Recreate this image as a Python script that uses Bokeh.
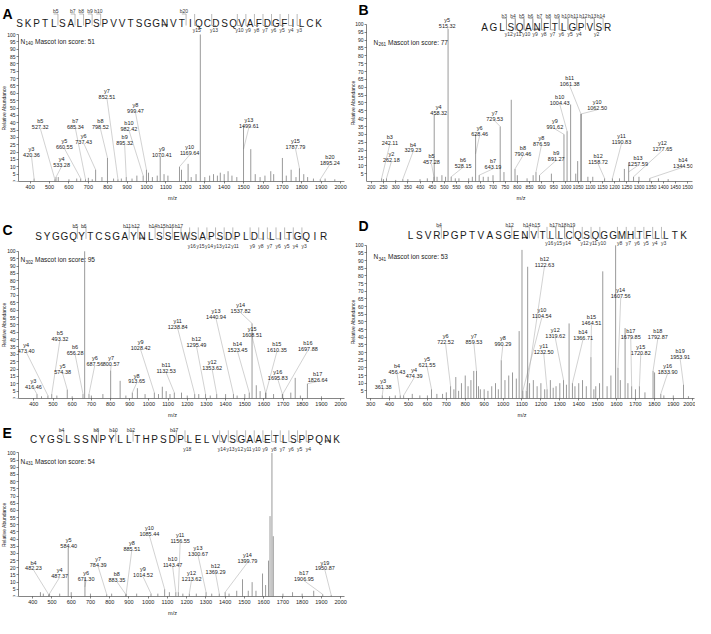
import math
from bokeh.plotting import figure
from bokeh.models import Range1d, FixedTicker
from bokeh.layouts import column, row
from bokeh.embed import file_html
from bokeh.resources import INLINE
from bokeh.core.properties import value

FONT = "Liberation Sans"
TXT = "#1b1b1b"
PEAK = "#6e6e6e"
LEAD = "#b3b3b3"
BRK = "#8c8c8c"

# ------------------------------------------------------------------ data
# Panel A
A_sequence = "SKPTLSALPSPVVTSGGNVTIQCDSQVAFDGFILCK"
A_b_ions = [5, 7, 8, 9, 10, 20]
A_y_ions = [15, 13, 10, 9, 8, 7, 6, 5, 4, 3]
A_site = 18
A_site_no = "140"
A_score = 51
A_ions = ["y3", "b5", "y4", "y5", "b7", "y6", "y7", "b8", "b9", "b10", "y8", "y9", "y10", "y13", "y15", "b20"]
A_ion_mz = [420.36, 527.32, 533.28, 660.55, 685.34, 737.43, 852.51, 798.52, 895.32, 982.42, 999.47, 1070.41, 1169.64, 1499.61, 1787.79, 1895.24]
A_ion_int = [2, 1.5, 3, 2, 1.5, 8, 1.5, 16, 3, 4, 8, 17, 10, 38, 9, 1.5]
A_peak_mz = [545, 600, 640, 700, 720, 770, 830, 870, 925, 950, 1010, 1030, 1055, 1090, 1110, 1180, 1214, 1230, 1255, 1277,
             1300, 1325, 1345, 1365, 1380, 1400, 1420, 1440, 1465, 1537, 1560, 1585, 1610, 1640, 1655, 1700, 1720, 1745, 1770, 1810,
             1830, 1860, 1920, 1970]
A_peak_int = [3, 1.5, 2, 2.5, 1.5, 3, 2, 2, 2, 4, 6, 3, 4, 5, 4, 8, 12, 3, 5, 100,
              3, 4, 5, 4, 6, 5, 7, 4, 3, 22, 5, 3, 4, 7, 5, 16, 4, 8, 3, 5,
              3, 2, 2, 1.5]
A_xticks = list(range(400, 2001, 100))

# Panel B
B_sequence = "AGLSQANFTLGPVSR"
B_b_ions = [3, 4, 5, 6, 7, 8, 9, 10, 11, 12, 13, 14]
B_y_ions = [12, 11, 10, 9, 8, 7, 6, 5, 4, 2]
B_site = 7
B_site_no = "261"
B_score = 77
B_ions = ["y5", "y4", "b3", "y2", "b4", "b5", "b6", "y6", "b7", "y7", "b8", "b11", "b10", "y10", "y9", "y8", "b9", "b12", "y11", "b13", "y12", "b14"]
B_ion_mz = [515.32, 458.32, 242.11, 262.18, 329.23, 457.28, 528.15, 628.46, 643.19, 729.53, 790.46, 1061.38, 1004.43, 1062.50, 991.62, 876.59, 891.27, 1158.72, 1190.83, 1257.59, 1277.65, 1344.50]
B_ion_int = [97, 42.5, 2, 2, 1.5, 3, 3, 30, 4, 35, 8, 43, 32, 43, 30, 6, 4, 2, 2, 12, 3, 2]
B_peak_mz = [250, 300, 350, 400, 430, 470, 490, 505, 545, 560, 600, 615, 660, 680, 700, 745, 775, 800, 840, 865,
             940, 1019, 1040, 1048, 1090, 1110, 1220, 1240, 1300, 1380, 1420]
B_peak_int = [1.5, 1, 1.5, 1.5, 2, 3, 4, 3, 2, 2, 2, 3, 3, 3, 4, 6, 52, 4, 2, 4,
              5, 49, 5, 13, 3, 3, 2, 8, 3, 2, 1.5]
B_xticks = list(range(200, 1501, 50))

# Panel C
C_sequence = "SYGGQYTCSGAYNLSSEWSAPSDPLDILITGQIR"
C_b_ions = [5, 6, 11, 12, 14, 15, 16, 17]
C_y_ions = [16, 15, 14, 13, 12, 11, 9, 8, 7, 6, 5, 4, 3]
C_site = 13
C_site_no = "302"
C_score = 95
C_ions = ["y3", "y4", "b5", "y5", "b6", "y6", "y7", "y8", "y9", "b11", "y11", "b12", "y12", "y13", "b14", "y14", "y15", "b15", "y16", "b16", "b17"]
C_ion_mz = [416.46, 473.40, 493.32, 574.38, 656.28, 687.56, 800.57, 913.65, 1028.42, 1132.53, 1238.84, 1295.49, 1353.62, 1440.94, 1523.45, 1537.82, 1608.51, 1610.35, 1695.83, 1697.88, 1826.64]
C_ion_int = [3, 2, 3, 6, 3, 3, 19, 4, 4, 4, 3, 3, 3, 3, 4, 51, 4, 4, 3, 3, 10]
C_peak_mz = [440, 520, 600, 665, 700, 760, 850, 880, 940, 980, 1050, 1070, 1090, 1110, 1170, 1200, 1260, 1320, 1400, 1460,
             1500, 1560, 1580, 1650, 1740, 1763, 1790, 1900]
C_peak_int = [1.5, 2, 1.5, 100, 2, 3, 12, 2, 7, 3, 3, 8, 5, 3, 4, 2, 3, 2, 3, 2,
              3, 9, 5, 3, 4, 14, 2, 1.5]
C_xticks = list(range(400, 2001, 100))

# Panel D
D_sequence = "LSVRPGPTVASGENVTLLCQSQGGMHTFLLTK"
D_b_ions = [4, 12, 14, 15, 17, 18, 19]
D_y_ions = [16, 15, 14, 12, 11, 10, 8, 7, 6, 5, 4, 3]
D_site = 14
D_site_no = "341"
D_score = 53
D_ions = ["y3", "b4", "y4", "y5", "y6", "y7", "y8", "y10", "b12", "y11", "y12", "b14", "b15", "y14", "b17", "y15", "b18", "y16", "b19"]
D_ion_mz = [361.38, 456.43, 474.39, 621.55, 722.52, 859.53, 990.29, 1104.54, 1122.63, 1232.50, 1319.62, 1366.71, 1464.51, 1607.56, 1679.85, 1720.82, 1792.87, 1833.90, 1953.91]
D_ion_int = [2, 2, 2, 6, 8, 18, 25, 5, 5, 6, 12, 10, 27, 20, 8, 8, 18, 3, 9]
D_peak_mz = [400, 430, 520, 560, 600, 650, 680, 700, 740, 750, 765, 780, 800, 815, 830, 845, 870, 880, 900, 920,
             940, 960, 975, 1010, 1030, 1050, 1070, 1085, 1100, 1130, 1140, 1160, 1180, 1200, 1220, 1250, 1265, 1280, 1300, 1335,
             1349, 1380, 1400, 1420, 1440, 1480, 1490, 1510, 1527, 1550, 1570, 1595, 1620, 1645, 1660, 1700, 1750, 1801, 1850, 1900,
             1980]
D_peak_int = [1.5, 2, 3, 2, 2, 3, 3, 4, 6, 14, 5, 10, 15, 8, 12, 18, 8, 6, 6, 5,
              8, 10, 6, 12, 15, 17, 13, 44, 97, 86, 10, 12, 8, 10, 6, 12, 7, 8, 10, 9,
              49, 8, 10, 12, 8, 6, 8, 10, 83, 8, 15, 100, 12, 46, 10, 6, 4, 17, 2, 2,
              1.5]
D_xticks = list(range(300, 2001, 100))

# Panel E
E_sequence = "CYGSLSSNPYLLTHPSDPLELVVSGAAETLSPPQNK"
E_b_ions = [4, 8, 10, 12, 17]
E_y_ions = [18, 14, 13, 12, 11, 10, 9, 8, 7, 6, 5, 4]
E_site = 35
E_site_no = "431"
E_score = 54
E_ions = ["b4", "y4", "y5", "y6", "y7", "b8", "y8", "y9", "y10", "b10", "y11", "y12", "y13", "b12", "y14", "b17", "y19"]
E_ion_mz = [482.23, 487.37, 584.40, 671.30, 784.39, 883.35, 885.51, 1014.52, 1085.44, 1143.47, 1156.55, 1213.62, 1300.67, 1369.29, 1399.79, 1906.95, 1950.87]
E_ion_int = [1.5, 2, 34, 13, 1.5, 1.5, 2, 2, 5, 3, 3, 2, 3, 2, 3, 1.5, 1]
E_peak_mz = [440, 455, 540, 600, 700, 810, 940, 1050, 1110, 1180, 1250, 1330, 1420, 1460, 1490, 1520, 1540, 1560, 1594, 1610,
             1625, 1633, 1643, 1650, 1700, 1750, 1800, 1860]
E_peak_int = [3, 2, 2, 3, 2, 2, 2, 2, 3, 2, 2, 2, 2, 4, 12, 4, 10, 4, 16, 8,
              25, 56, 100, 42, 2, 3, 2, 4]
E_xticks = list(range(400, 2001, 100))

# ------------------------------------------------------------------ layout (page pixels / label anchors)
LAYOUT = {
    "A": dict(box=(8, 8, 349, 210), frame=(26, 352, 42, 189), xr=(340, 2020), yticks=list(range(0, 101, 5)),
              xfont="5.5px", letter=(10, 21), seq=(27, 326, 30.5), bl=18.5, yl=37.5, mascot=(28, 48.5), ylab=11,
              labels=[(407, 19.4), (452, 38.6), (562, 12.6), (576, 25), (633, 38.6), (676, 28.4), (796, 58.7), (762, 38.4),
                      (887, 27.3), (909, 37.3), (943, 49.2), (1079, 19.4), (1222, 20.5), (1527, 39), (1767, 25), (1945, 14.2)]),
    "B": dict(box=(357, 8, 346, 210), frame=(374, 700, 32, 190), xr=(180, 1520), yticks=list(range(5, 101, 5)),
              xfont="4.8px", letter=(366, 18), seq=(492, 615, 35), bl=23.5, yl=42, mascot=(381, 50), ylab=360.5,
              labels=[(512, 100), (477, 45), (276, 26), (282, 14.7), (371, 21), (447, 13.4), (577, 11.3), (645, 31.5),
                      (700, 10.3), (707, 40.8), (823, 18.7), (1015, 63.1), (974, 51.5), (1128, 47.8), (954, 35.7),
                      (899, 25.2), (960, 15.7), (1132, 13.5), (1228, 26.3), (1296, 12.4), (1396, 21.9), (1481, 11.3)]),
    "C": dict(box=(8, 218, 349, 210), frame=(26, 352, 259, 407), xr=(320, 2020), yticks=list(range(0, 101, 5)),
              xfont="5.5px", letter=(10, 237.5), seq=(46, 331, 244), bl=233.5, yl=254, mascot=(28, 267.5), ylab=11,
              labels=[(398, 9.5), (360, 33.9), (536, 42), (550, 19.5), (615, 32.4), (718, 25), (803, 25), (936, 12.9),
                      (957, 35.5), (1090, 19.9), (1150, 50), (1248, 38), (1330, 22), (1350, 56.6), (1462, 34.4),
                      (1478, 60.7), (1538, 44.6), (1667, 34), (1672, 15.5), (1829, 35), (1880, 14)]),
    "D": dict(box=(357, 218, 346, 210), frame=(374, 702, 253, 407), xr=(278, 2012), yticks=list(range(5, 101, 5)),
              xfont="5.5px", letter=(366, 234), seq=(418, 691, 243.5), bl=232.5, yl=251, mascot=(381, 264.5), ylab=360.5,
              labels=[(366, 8.9), (439, 18.7), (530, 15.8), (598, 23), (696, 37.9), (846, 37.9), (999, 37.1), (1205, 55.1),
                      (1219, 88.7), (1215, 31.7), (1276, 41.8), (1423, 41), (1467, 50.7), (1622, 68.1), (1675, 41.4),
                      (1728, 31.2), (1818, 41.4), (1870, 18.7), (1936, 28.4)]),
    "E": dict(box=(8, 428, 349, 198), frame=(26, 352, 461, 607), xr=(326, 2020), yticks=list(range(0, 101, 5)),
              xfont="5.5px", letter=(10, 441), seq=(41, 344, 447), bl=437.5, yl=457, mascot=(28, 469.5), ylab=11,
              labels=[(404, 20.9), (540, 15.8), (587, 36.6), (677, 13.5), (740, 23.2), (837, 12.8), (915, 34.8),
                      (973, 16.2), (1006, 44.9), (1127, 23.2), (1166, 39.8), (1225, 13.9), (1259, 31), (1350, 18.5),
                      (1515, 25.9), (1809, 13.5), (1918, 20.9)]),
}


def tx(p, x, y, text, size, align="center", color=TXT, style="normal", angle=0.0, baseline="alphabetic"):
    p.text(x=x, y=y, text=text, text_font=value(FONT), text_font_size=size, text_align=align,
           text_baseline=baseline, text_color=color, text_font_style=style, angle=angle)


def build_panel(letter, seq, b_ions, y_ions, site, site_no, score, ions, ion_mz, ion_int,
                peak_mz, peak_int, xticks, L):
    bx0, by0, W, H = L["box"]
    fl, fr, y100, y0 = L["frame"]
    xs, xe = L["xr"]
    ppu = (y0 - y100) / 100.0
    ytop = (y0 - by0) / ppu

    def X(px):
        return xs + (px - fl) * (xe - xs) / (fr - fl)

    def Y(py):
        return (y0 - py) / ppu

    def dy(d):
        return d / ppu

    p = figure(width=W, height=H, x_range=Range1d(X(bx0), xe), y_range=Range1d(0, ytop),
               output_backend="svg", toolbar_location=None,
               min_border_left=0, min_border_right=int(bx0 + W - fr),
               min_border_top=0, min_border_bottom=int(by0 + H - y0))
    p.background_fill_color = "white"
    p.border_fill_color = "white"
    p.outline_line_color = None
    p.xgrid.grid_line_color = None
    p.ygrid.grid_line_color = None

    for ax in (p.xaxis[0], p.yaxis[0]):
        ax.axis_line_color = "#333333"
        ax.axis_line_width = 0.6
        ax.major_tick_line_color = "#333333"
        ax.major_tick_line_width = 0.6
        ax.major_tick_in = 0
        ax.major_tick_out = 2
        ax.minor_tick_line_color = None
        ax.major_label_text_font = FONT
        ax.major_label_text_color = TXT
        ax.major_label_standoff = 1
        ax.axis_label_text_font = FONT
        ax.axis_label_text_font_style = "normal"
        ax.axis_label_text_color = TXT
    p.yaxis.major_label_text_font_size = "5px"
    p.yaxis.fixed_location = xs
    p.yaxis.bounds = (0, 100)
    p.yaxis.ticker = FixedTicker(ticks=L["yticks"])
    p.xaxis.bounds = (xs, xe)
    p.xaxis.ticker = FixedTicker(ticks=xticks)
    p.xaxis.major_label_text_font_size = L["xfont"]
    p.xaxis.axis_label = "m/z"
    p.xaxis.axis_label_text_font_size = "5.5px"
    p.xaxis.axis_label_standoff = 3

    # y axis title drawn inside the frame, left of the axis
    tx(p, [X(L["ylab"])], [50.0], ["Relative Abundance"], "5px", angle=math.pi / 2, baseline="middle")

    # label anchors and leader lines
    lx = [q[0] for q in L["labels"]]
    lc = [q[1] for q in L["labels"]]
    base = [c - dy(2) for c in lc]
    name_y = [b + dy(6) for b in base]
    lead_start = [b - dy(1.5) for b in base]
    lead_end = [h if h < s else 0.6 * s for h, s in zip(ion_int, lead_start)]
    p.segment(x0=lx, y0=lead_start, x1=ion_mz, y1=lead_end, line_color=LEAD, line_width=0.6)

    # peaks
    p.segment(x0=peak_mz, y0=0, x1=peak_mz, y1=peak_int, line_color=PEAK, line_width=0.7)
    p.segment(x0=ion_mz, y0=0, x1=ion_mz, y1=ion_int, line_color=PEAK, line_width=0.7)

    tx(p, lx, base, [f"{m:.2f}" for m in ion_mz], "5.5px")
    tx(p, lx, name_y, ions, "5.5px")

    # peptide sequence with fragment brackets
    s0, s1, sb = L["seq"]
    n = len(seq)
    cx = [s0 + i * (s1 - s0) / (n - 1) for i in range(n)]
    tx(p, [X(c) for c in cx], [Y(sb)] * n, list(seq), "10px")
    top, bot, arm = sb - 9.0, sb + 2.5, 4.3
    sx0, sy0, sx1, sy1 = [], [], [], []
    blx, bly, blt = [], [], []
    for k in b_ions:
        b = (cx[k - 1] + cx[k]) / 2
        sx0 += [X(b), X(b - arm)]
        sy0 += [Y(top), Y(top)]
        sx1 += [X(b), X(b)]
        sy1 += [Y(bot), Y(top)]
        blx.append(X(b - 2.2)); bly.append(Y(L["bl"])); blt.append(f"b{k}")
    for k in y_ions:
        b = (cx[n - k - 1] + cx[n - k]) / 2
        sx0 += [X(b), X(b)]
        sy0 += [Y(top), Y(bot)]
        sx1 += [X(b), X(b + arm)]
        sy1 += [Y(bot), Y(bot)]
        blx.append(X(b + 2.2)); bly.append(Y(L["yl"])); blt.append(f"y{k}")
    p.segment(x0=sx0, y0=sy0, x1=sx1, y1=sy1, line_color=BRK, line_width=0.6)
    tx(p, blx, bly, blt, "5px", color="#333333")
    c = cx[site - 1]
    p.segment(x0=[X(c - 3)], y0=[Y(sb + 1.8)], x1=[X(c + 3)], y1=[Y(sb + 1.8)], line_color=TXT, line_width=0.8)

    # Mascot note
    mx, my = L["mascot"]
    tx(p, [X(mx)], [Y(my)], ["N"], "6.5px", align="left")
    tx(p, [X(mx + 4.9)], [Y(my + 1.8)], [site_no], "4.6px", align="left")
    tx(p, [X(mx + 14.5)], [Y(my)], [f"Mascot ion score: {score}"], "6.5px", align="left")

    # panel letter
    lxp, lyp = L["letter"]
    tx(p, [X(lxp)], [Y(lyp)], [letter], "14px", align="left", color="black", style="bold")
    return p


pA = build_panel("A", A_sequence, A_b_ions, A_y_ions, A_site, A_site_no, A_score, A_ions, A_ion_mz, A_ion_int,
                 A_peak_mz, A_peak_int, A_xticks, LAYOUT["A"])
pB = build_panel("B", B_sequence, B_b_ions, B_y_ions, B_site, B_site_no, B_score, B_ions, B_ion_mz, B_ion_int,
                 B_peak_mz, B_peak_int, B_xticks, LAYOUT["B"])
pC = build_panel("C", C_sequence, C_b_ions, C_y_ions, C_site, C_site_no, C_score, C_ions, C_ion_mz, C_ion_int,
                 C_peak_mz, C_peak_int, C_xticks, LAYOUT["C"])
pD = build_panel("D", D_sequence, D_b_ions, D_y_ions, D_site, D_site_no, D_score, D_ions, D_ion_mz, D_ion_int,
                 D_peak_mz, D_peak_int, D_xticks, LAYOUT["D"])
pE = build_panel("E", E_sequence, E_b_ions, E_y_ions, E_site, E_site_no, E_score, E_ions, E_ion_mz, E_ion_int,
                 E_peak_mz, E_peak_int, E_xticks, LAYOUT["E"])

layout = column(row(pA, pB), row(pC, pD), pE)
open("out.html", "w").write(file_html(layout, INLINE, title="MS/MS spectra"))
